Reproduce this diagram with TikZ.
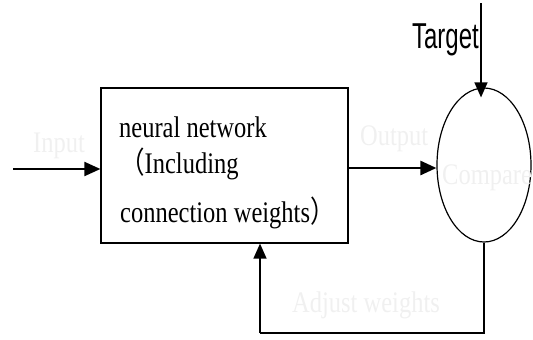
\documentclass[tikz,border=0pt]{standalone}
\usepackage{fontspec}
\usepackage{graphicx}
\setmainfont{Liberation Serif}
\newfontfamily\sansf{Liberation Sans}
\newfontfamily\cjk{Noto Sans CJK SC}
\usetikzlibrary{shapes.geometric,arrows.meta}
\definecolor{faint}{gray}{0.94}
\newcommand{\tall}[1]{\scalebox{1}[1.22]{#1}}
\tikzset{
  blk/.style={draw, line width=1.2pt, minimum width=247pt, minimum height=155pt, inner sep=0pt},
  cmpnode/.style={ellipse, draw, line width=1.2pt, minimum width=94pt, minimum height=154pt, inner sep=0pt},
  txt/.style={anchor=base west, inner sep=0pt, font=\fontsize{24.5}{24}\selectfont},
  ghost/.style={txt, text=faint},
  fwd/.style={-{Triangle[length=16pt,width=14pt]}, line width=2pt},
  thin/.style={-{Triangle[length=15pt,width=13pt]}, line width=1.3pt}
}
\begin{document}
\begin{tikzpicture}[x=1pt,y=-1pt]
\useasboundingbox (0,0) rectangle (533,340);
% blocks
\node[blk] (net) at (224.5,165.5) {};
\node[cmpnode] (cmp) at (484,165) {};
% text in the block
\node[txt] (nn1) at (119,137) {\tall{neural network}};
\node[txt] (nn2) at (120,173) {\tall{{\cjk （}Including}};
\node[txt] (nn3) at (120,222) {\tall{connection weights{\cjk ）}}};
\node[txt, font=\sansf\fontsize{24}{24}\selectfont, anchor=base east] (tgt) at (479,48) {\scalebox{1}[1.5]{Target}};
% faint labels
\node[ghost] (lin) at (33,152) {\tall{Input}};
\node[ghost] (lout) at (360,145) {\tall{Output}};
\node[ghost] (lcmp) at (442,184) {\tall{Compare}};
\node[ghost] (ladj) at (292,312) {\tall{Adjust weights}};
% connectors
\coordinate (src) at (13,169);
\coordinate (o) at (0,168);
\coordinate (top) at (481,3);
\coordinate (fb) at (260,333);
\draw[fwd] (src) -- (src -| net.west);
\draw[fwd, line width=2.6pt] (net.east |- o) -- (cmp.west |- o);
\draw[thin, shorten >=-10pt] (top) -- (top |- cmp.north);
\draw[thin, -] (cmp.south) |- (fb);
\draw[thin] (fb) -- (fb |- net.south);
\end{tikzpicture}
\end{document}
